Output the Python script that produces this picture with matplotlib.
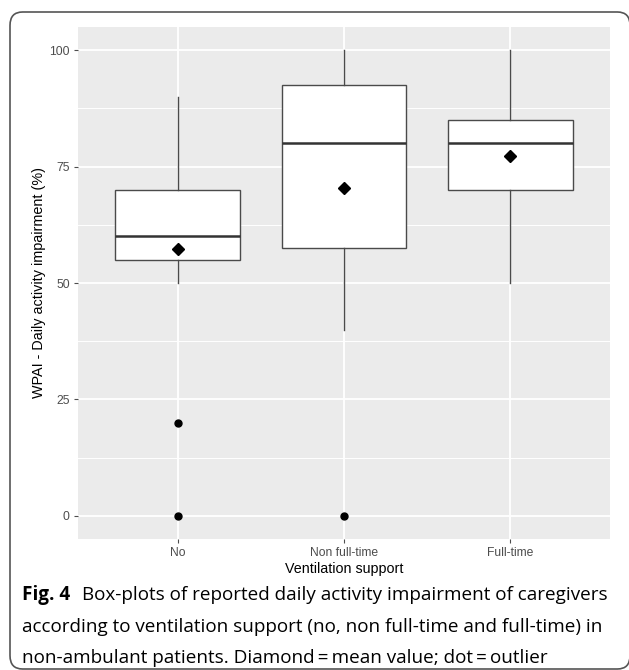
import matplotlib.pyplot as plt
from matplotlib.patches import FancyBboxPatch

categories = ['No', 'Non full-time', 'Full-time']
whisker_low = [50, 40, 50]
q1 = [55, 57.5, 70]
median = [60, 80, 80]
q3 = [70, 92.5, 85]
whisker_high = [90, 100, 100]
means = [57.3, 70.5, 77.2]
outliers = [[20, 0], [0], []]

plt.rcParams['font.family'] = ['Liberation Sans', 'DejaVu Sans']

fig = plt.figure(figsize=(6.29, 6.70), dpi=100)

# rounded frame round the figure
frame = FancyBboxPatch((10 / 629, 1 / 670), 620 / 629, 657 / 670,
                       boxstyle='round,pad=0,rounding_size=0.02',
                       transform=fig.transFigure, facecolor='none',
                       edgecolor='#555555', linewidth=1.2)
fig.patches.append(frame)

ax = fig.add_axes([78 / 629, 1 - 539 / 670, 532 / 629, 512 / 670])
ax.set_facecolor('#EBEBEB')
for s in ax.spines.values():
    s.set_visible(False)

stats = []
for i in range(len(categories)):
    stats.append({'whislo': whisker_low[i], 'q1': q1[i], 'med': median[i],
                  'q3': q3[i], 'whishi': whisker_high[i], 'fliers': outliers[i],
                  'label': categories[i]})

ax.bxp(stats, positions=[1, 2, 3], widths=0.75, patch_artist=True, showcaps=False,
       boxprops=dict(facecolor='white', edgecolor='#4a4a4a', linewidth=1.0),
       medianprops=dict(color='#333333', linewidth=1.8),
       whiskerprops=dict(color='#4a4a4a', linewidth=1.0),
       flierprops=dict(marker='o', markerfacecolor='black', markeredgecolor='black',
                       markersize=5))

ax.plot([1, 2, 3], means, linestyle='none', marker='D', color='black', markersize=6.5)

ax.set_ylim(-5, 105)
ax.set_xlim(0.4, 3.6)
ax.set_yticks([0, 25, 50, 75, 100])
ax.set_yticks([12.5, 37.5, 62.5, 87.5], minor=True)
ax.set_xticks([1, 2, 3])
ax.set_xticklabels(categories)
ax.grid(which='major', color='white', linewidth=1.3)
ax.grid(which='minor', axis='y', color='white', linewidth=0.7)
ax.set_axisbelow(True)
ax.tick_params(axis='both', which='major', length=3, width=0.8, color='#4D4D4D',
               labelcolor='#4D4D4D', labelsize=8.7, pad=3)
ax.tick_params(which='minor', length=0)

ax.set_ylabel('WPAI - Daily activity impairment (%)', fontsize=10.4, color='black', labelpad=2.5)
ax.set_xlabel('Ventilation support', fontsize=10.3, color='black', labelpad=2)

# caption
cap_font = 'Open Sans'
cap_size = 13.6
y1 = 1 - 595 / 670
fig.text(22 / 629, y1, 'Fig. 4', fontsize=cap_size, fontweight='bold', family=cap_font,
         va='center', ha='left')
fig.text(82 / 629, y1, 'Box-plots of reported daily activity impairment of caregivers',
         fontsize=cap_size, family=cap_font, va='center', ha='left')
fig.text(22 / 629, 1 - 627 / 670,
         'according to ventilation support (no, non full-time and full-time) in',
         fontsize=cap_size, family=cap_font, va='center', ha='left')
fig.text(22 / 629, 1 - 658 / 670,
         'non-ambulant patients. Diamond\u2009=\u2009mean value; dot\u2009=\u2009outlier',
         fontsize=cap_size, family=cap_font, va='center', ha='left')

fig.savefig('out.png', dpi=100)
